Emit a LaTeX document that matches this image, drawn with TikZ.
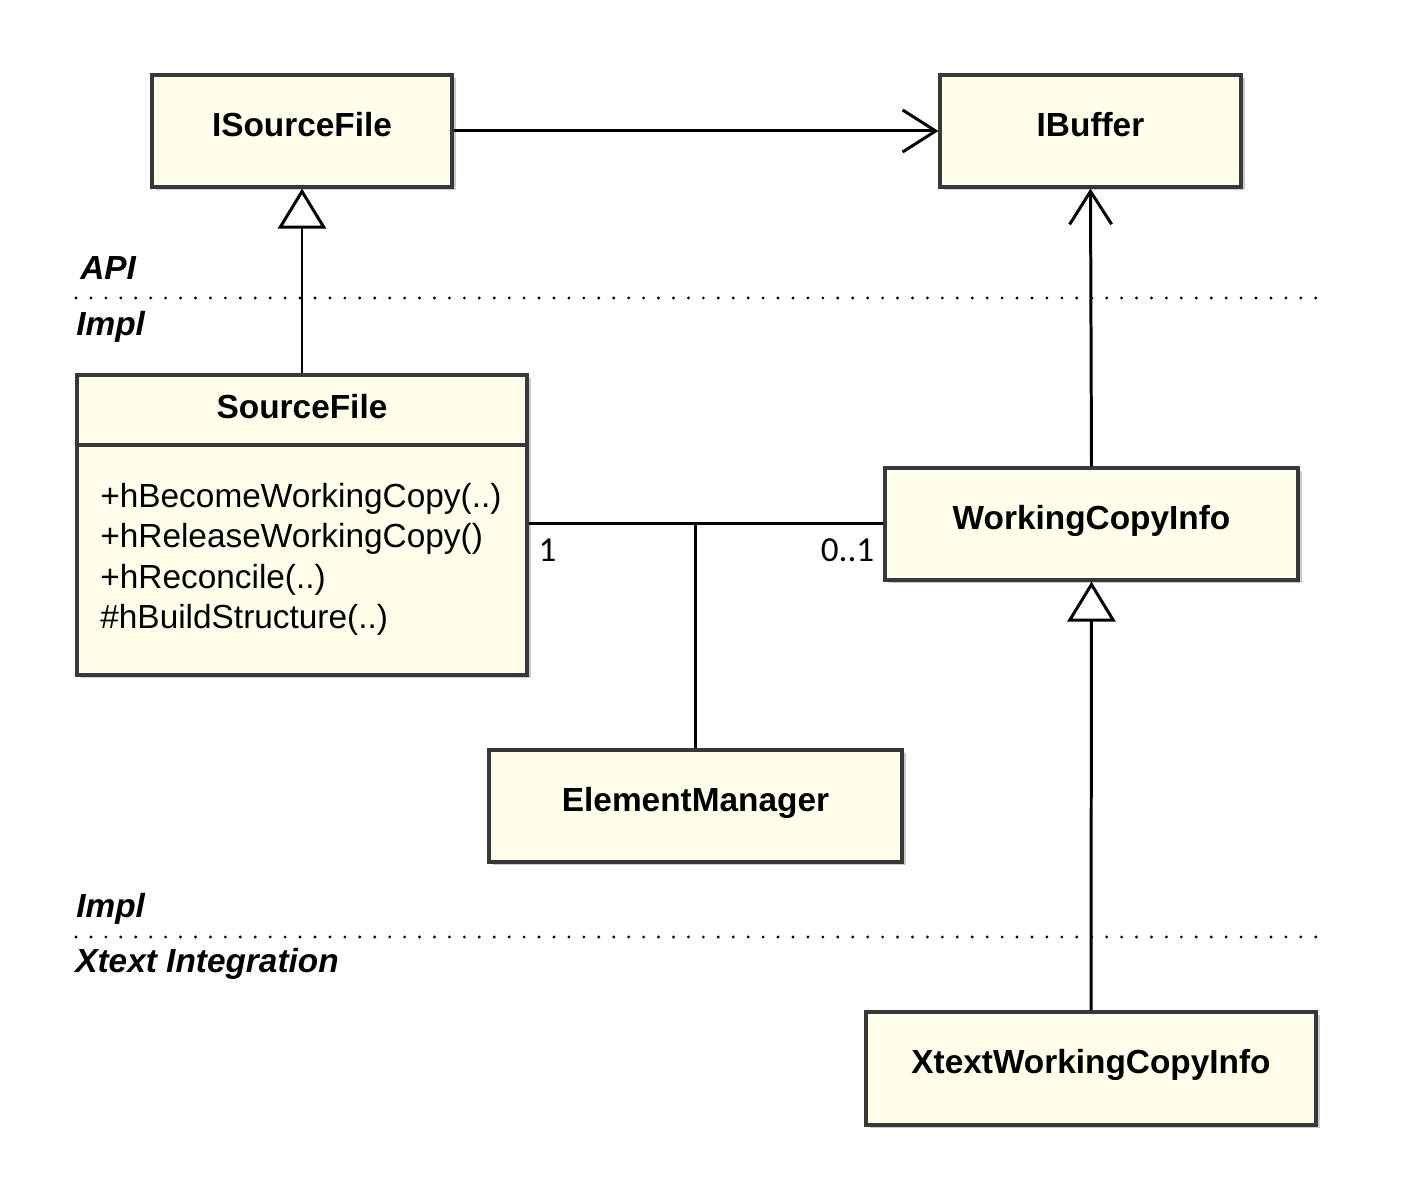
\documentclass[tikz,border=0pt]{standalone}
\usepackage{fontspec}
\setmainfont{Liberation Sans}
\newfontfamily\cardfont{Carlito}
\usetikzlibrary{arrows.meta,shadows}
\definecolor{boxfill}{RGB}{255,255,236}
\definecolor{boxline}{RGB}{56,56,56}
\tikzset{
  umlbox/.style={draw=boxline, line width=1.8pt, fill=boxfill, minimum height=2.24cm,
    font=\fontsize{19}{23}\selectfont\bfseries, text height=0.72em, text depth=0.13em,
    drop shadow={shadow xshift=2pt, shadow yshift=-2pt, opacity=0.4}},
  layer/.style={anchor=west, inner sep=0pt, font=\fontsize{19}{23}\selectfont\bfseries\itshape},
  layerline/.style={line width=1.8pt, line cap=round, dash pattern=on 0pt off 8.5pt},
  conn/.style={line width=1.7pt},
  usearrow/.style={conn, -{Straight Barb[length=0.66cm, width=0.84cm]}},
  inherit/.style={conn, -{Triangle[open, length=0.8cm, width=0.96cm, fill=white]}},
  card/.style={font=\cardfont\fontsize{20}{24}\selectfont}
}
\begin{document}
\begin{tikzpicture}
  \useasboundingbox (0,0) rectangle (28.16,24);
  % API
  \node[umlbox, minimum width=6cm] (isourcefile) at (6.04,21.38) {ISourceFile};
  \node[umlbox, minimum width=6.02cm] (ibuffer) at (21.81,21.38) {IBuffer};
  % Impl
  \node[umlbox, minimum width=9cm, minimum height=6cm] (sourcefile) at (6.04,13.5) {};
  \draw[draw=boxline, line width=1.8pt] (1.54,15.1) -- (10.54,15.1);
  \node[font=\fontsize{19}{23}\selectfont\bfseries] (sourcefiletitle) at (6.04,15.86) {SourceFile};
  \node[anchor=west, inner sep=0pt, align=left, font=\fontsize{19}{23}\selectfont] (methods) at (2.0,12.81)
    {+hBecomeWorkingCopy(..)\\+hReleaseWorkingCopy()\\+hReconcile(..)\\\#hBuildStructure(..)};
  \node[umlbox, minimum width=8.26cm] (workingcopyinfo) at (21.83,13.52) {WorkingCopyInfo};
  \node[umlbox, minimum width=8.26cm] (elementmanager) at (13.91,7.88) {ElementManager};
  % Xtext
  \node[umlbox, minimum width=9cm, minimum height=2.26cm] (xtextworkingcopyinfo) at (21.82,2.63) {XtextWorkingCopyInfo};
  % layers
  \node[layer] (apilabel) at (1.6,18.64) {API};
  \node[layer] (impllabel) at (1.52,17.46) {Impl};
  \draw[layerline] (1.52,18.04) -- (26.4,18.04);
  \node[layer] (impllabelb) at (1.52,5.82) {Impl};
  \draw[layerline] (1.52,5.26) -- (26.4,5.26);
  \node[layer] (xtextlabel) at (1.5,4.72) {Xtext Integration};
  % connectors
  \draw[usearrow] (isourcefile.east) -- (ibuffer.west);
  \draw[inherit] (sourcefile.north) -- (isourcefile.south);
  \draw[usearrow] (workingcopyinfo.north) -- (ibuffer.south);
  \draw[inherit] (xtextworkingcopyinfo.north) -- (workingcopyinfo.south);
  \coordinate (assocl) at (sourcefile.east |- workingcopyinfo.west);
  \draw[conn] (assocl) -- (workingcopyinfo.west);
  \draw[conn] (elementmanager.north) -- (elementmanager.north |- workingcopyinfo.west);
  \node[card, anchor=north west, inner xsep=5.5pt, inner ysep=8pt] (onelabel) at (assocl) {1};
  \node[card, anchor=north east, inner xsep=5pt, inner ysep=8pt] (optlabel) at (workingcopyinfo.west) {0..1};
\end{tikzpicture}
\end{document}
